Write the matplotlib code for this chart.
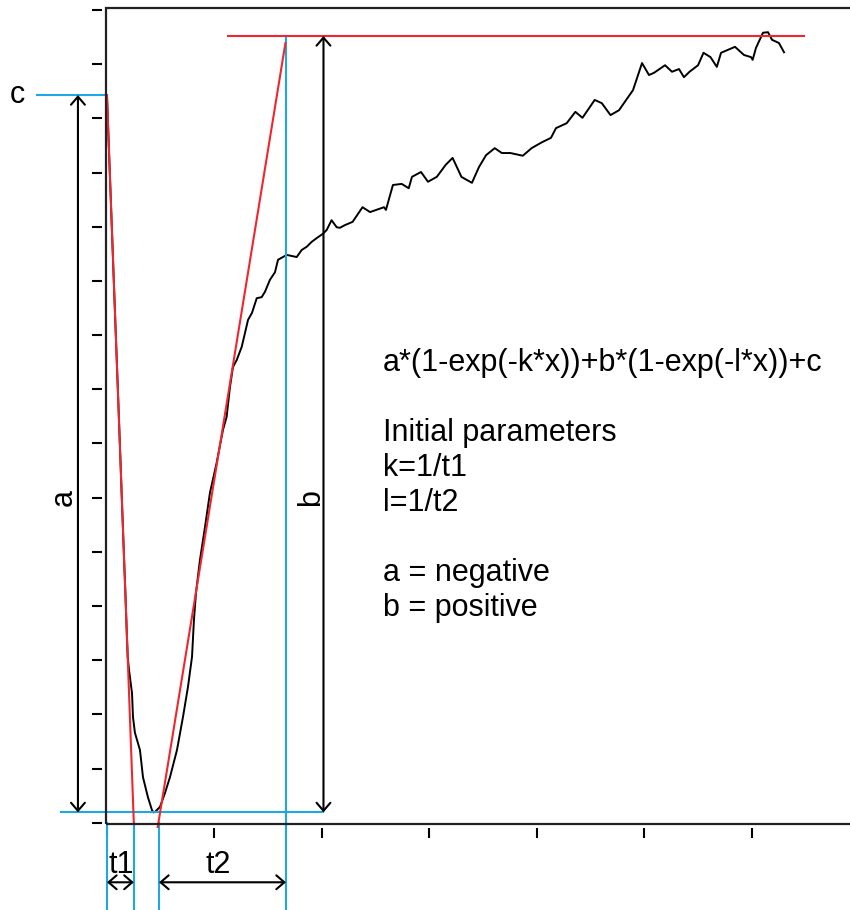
import matplotlib.pyplot as plt
from matplotlib.patches import FancyArrowPatch, Rectangle, ArrowStyle

# measured curve (x in time units, y in signal units)
curve_x = [0.00, 0.15, 0.46, 0.76, 0.99, 1.23, 1.41, 1.57, 1.71, 1.83, 1.93, 2.05,
           2.33, 2.42, 2.60, 3.07, 3.35, 3.81, 4.19,
           4.33, 4.47, 4.93, 5.40, 5.86, 6.51, 7.07, 7.53, 7.91, 8.09, 8.28, 8.65, 9.12, 9.58,
           10.20, 10.79, 11.13, 11.44, 11.72, 12.07, 12.53, 12.84, 13.12, 13.49, 13.93, 14.39,
           14.70, 15.16, 15.63, 15.91, 16.37, 16.72, 17.18, 17.65, 18.11, 18.58, 19.04, 19.51,
           20.09, 20.44, 20.89, 21.37, 21.67, 22.14, 22.85, 23.77, 24.47, 25.77, 25.95, 26.60,
           27.42, 28.07, 28.37, 29.21, 29.86, 30.68, 31.50, 32.15, 32.97, 33.95, 34.60, 35.26,
           36.07, 36.73, 37.53, 38.68, 39.50, 40.47, 41.30, 41.77, 42.76, 43.57, 44.23, 45.37,
           46.03, 46.84, 47.63, 48.47, 48.93, 49.77, 50.42, 50.88, 51.91, 52.56, 53.21, 53.67,
           54.19, 54.98, 55.49, 56.14, 56.73, 57.12, 58.42, 59.25, 59.91, 60.06, 60.37, 61.02,
           61.49, 61.86, 62.51, 62.98]
curve_y = [13.43, 12.60, 10.94, 9.33, 8.12, 6.82, 5.83, 4.98, 4.26, 3.58, 3.06, 2.82,
           2.39, 1.95, 1.66, 1.34, 0.84, 0.47, 0.23,
           0.19, 0.20, 0.29, 0.55, 0.84, 1.34, 1.95, 2.50, 3.06, 3.74, 4.24, 4.85, 5.46, 6.09,
           6.64, 7.25, 7.49, 8.04, 8.41, 8.54, 8.78, 9.04, 9.28, 9.41, 9.68, 9.70,
           9.80, 10.02, 10.16, 10.39, 10.44, 10.48, 10.46, 10.44, 10.57, 10.63, 10.72, 10.79,
           10.87, 10.94, 11.12, 10.99, 10.98, 11.03, 11.09, 11.36, 11.27, 11.36, 11.31, 11.77,
           11.79, 11.71, 11.92, 12.01, 11.83, 11.92, 12.14, 12.27, 11.92, 11.81, 12.10, 12.32,
           12.45, 12.36, 12.36, 12.31, 12.45, 12.56, 12.64, 12.82, 12.91, 13.12, 13.01, 13.34,
           13.28, 13.06, 13.15, 13.39, 13.52, 14.02, 13.80, 13.84, 13.98, 13.86, 13.91, 13.76,
           13.86, 13.98, 14.21, 14.13, 13.95, 14.21, 14.32, 14.17, 14.13, 14.08, 14.30, 14.58,
           14.59, 14.45, 14.39, 14.22]

# guide values
c_level = 13.43
min_level = 0.19
b_level = 14.52
t1_end = 2.5
t2_start = 4.84
t2_end = 16.65

text_lines = ["a*(1-exp(-k*x))+b*(1-exp(-l*x))+c", "", "Initial parameters",
              "k=1/t1", "l=1/t2", "", "a = negative", "b = positive"]

blue = '#1ea7e4'
red = '#f0262e'
font = 'Liberation Sans'
fs = 22

fig = plt.figure(figsize=(8.5, 9.1), dpi=100)
ax = fig.add_axes([106 / 850, 86.5 / 910, 775 / 850, 816 / 910])
ax.set_xlim(-0.09, 72)
ax.set_ylim(-0.015, 15.046)

# box + ticks slightly detached from the box, like R
for s in ax.spines.values():
    s.set_visible(False)
ax.spines['left'].set_position(('outward', 3))
ax.spines['bottom'].set_position(('outward', 3))
ax.add_patch(Rectangle((0, 0), 1, 1, transform=ax.transAxes, fill=False,
                       edgecolor='#222222', linewidth=1.6, clip_on=False, zorder=5))
ax.set_xticks(range(0, 71, 10))
ax.set_yticks(range(16))
ax.tick_params(direction='out', length=7.5, width=1.5, color='black',
               labelbottom=False, labelleft=False)

lw = 1.5
# data curve
ax.plot(curve_x, curve_y, color='black', lw=1.4, zorder=2)

# blue guides
ax.plot([-6.5, 0], [c_level, c_level], color=blue, lw=lw, clip_on=False)
ax.plot([-4.3, 20.14], [min_level, min_level], color=blue, lw=lw, clip_on=False)
for xv in [0, t1_end, t2_start]:
    ax.plot([xv, xv], [0, -1.9], color=blue, lw=lw, clip_on=False)
ax.plot([t2_end, t2_end], [b_level, -1.9], color=blue, lw=lw, clip_on=False)

# red tangents and plateau
ax.plot([0, t1_end], [c_level, -0.015], color=red, lw=lw, zorder=3, clip_on=False)
ax.plot([4.72, 16.6], [-0.08, 14.39], color=red, lw=lw, zorder=3, clip_on=False)
ax.plot([11.26, 64.84], [b_level, b_level], color=red, lw=lw, zorder=3)


def arrow(p0, p1):
    ar = FancyArrowPatch(p0, p1, arrowstyle=ArrowStyle('<->', head_length=5.8, head_width=5),
                         mutation_scale=1, shrinkA=0, shrinkB=0, color='black', lw=lw,
                         clip_on=False, zorder=4)
    ax.add_patch(ar)


arrow((-2.7, c_level), (-2.7, min_level))
arrow((20.14, b_level), (20.14, min_level))
arrow((0, -1.10), (t1_end, -1.10))
arrow((t2_start, -1.10), (t2_end, -1.10))

# labels
ax.text(-8.37, 13.28, 'c', fontsize=fs, family=font, ha='center', va='baseline', clip_on=False)
ax.text(-3.26, 6.0, 'a', fontsize=fs, family=font, rotation=90, rotation_mode='anchor',
        ha='center', va='baseline', clip_on=False)
ax.text(19.72, 6.0, 'b', fontsize=fs, family=font, rotation=90, rotation_mode='anchor',
        ha='center', va='baseline')
ax.text(1.37, -0.93, 't1', fontsize=fs, family=font, ha='center', va='baseline', clip_on=False)
ax.text(10.3, -0.93, 't2', fontsize=fs, family=font, ha='center', va='baseline', clip_on=False)

step = 35 / 54.18
for i, line in enumerate(text_lines):
    if line:
        ax.text(25.67, 8.34 - i * step, line, fontsize=fs, family=font, va='baseline')

fig.savefig('out.png', dpi=100)
